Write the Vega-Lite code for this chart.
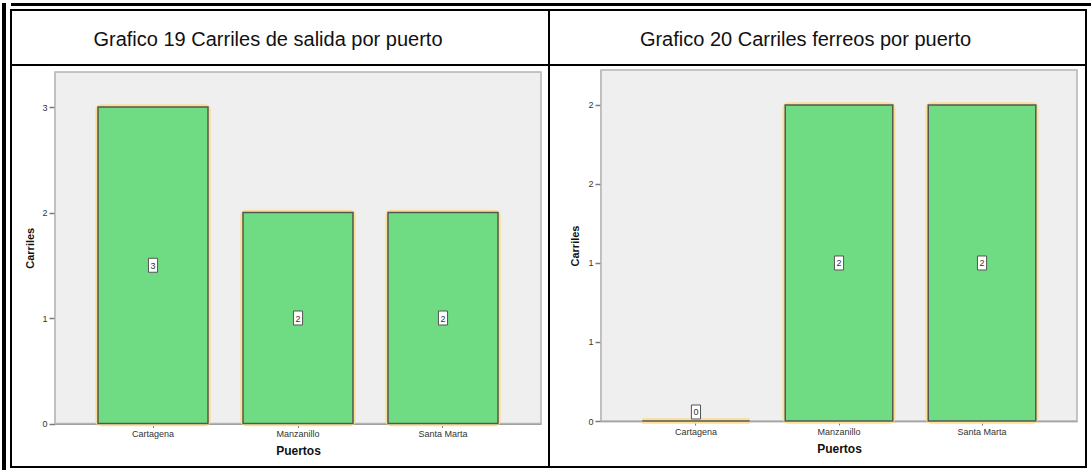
{
  "$schema": "https://vega.github.io/schema/vega-lite/v6.json",
  "background": "white",
  "padding": {"left": 2, "top": 3, "right": 0, "bottom": 0},
  "config": {
    "font": "Liberation Sans",
    "text": {"font": "Liberation Sans"}
  },
  "spacing": 4,
  "hconcat": [
    {
      "width": 4,
      "height": 467,
      "view": {"fill": "black", "stroke": null},
      "data": {"values": []},
      "mark": "rect",
      "encoding": {}
    },
    {
      "spacing": 3,
      "vconcat": [
        {
          "width": 1080,
          "height": 3,
          "view": {"fill": "black", "stroke": null},
          "data": {"values": []},
          "mark": "rect",
          "encoding": {}
        },
        {
          "columns": 2,
          "spacing": 0,
          "bounds": "flush",
          "align": "each",
          "concat": [
            {
              "width": 538,
              "height": 55,
              "view": {"stroke": "black", "strokeWidth": 2, "fill": "white"},
              "data": {"values": [{"t": "Grafico 19 Carriles de salida por puerto"}]},
              "mark": {"type": "text", "fontSize": 20, "color": "#111111", "dx": -12, "dy": 2},
              "encoding": {"text": {"field": "t"}}
            },
            {
              "width": 537,
              "height": 55,
              "view": {"stroke": "black", "strokeWidth": 2, "fill": "white"},
              "data": {"values": [{"t": "Grafico 20 Carriles ferreos por puerto"}]},
              "mark": {"type": "text", "fontSize": 20, "color": "#111111", "dx": -12, "dy": 2},
              "encoding": {"text": {"field": "t"}}
            },
            {
              "width": 538,
              "height": 402,
              "view": {"stroke": "black", "strokeWidth": 2, "fill": "white"},
              "resolve": {"scale": {"x": "independent", "y": "independent"}},
              "layer": [
                {
                  "data": {"values": [{"lo": 0, "hi": 1}]},
                  "mark": {"type": "rect", "fill": "#efefef", "stroke": "#b4b4b4", "strokeWidth": 1.5},
                  "encoding": {
                    "x": {"field": "lo", "type": "quantitative", "scale": {"domain": [0, 1], "range": [44, 530]}, "axis": null},
                    "x2": {"field": "hi"},
                    "y": {"field": "lo", "type": "quantitative", "scale": {"domain": [0, 1], "range": [358.5, 7]}, "axis": null},
                    "y2": {"field": "hi"}
                  }
                },
                {
                  "data": {"values": [
                    {"Puerto": "Cartagena", "Carriles": 3},
                    {"Puerto": "Manzanillo", "Carriles": 2},
                    {"Puerto": "Santa Marta", "Carriles": 2}
                  ]},
                  "transform": [{"calculate": "datum.Carriles > 0 ? datum.Carriles / 2 : 0.06", "as": "mitad"}],
                  "encoding": {
                    "x": {
                      "field": "Puerto", "type": "nominal", "sort": null,
                      "scale": {"range": [44, 530], "paddingInner": 0.2414, "paddingOuter": 0.2966},
                      "axis": {
                        "title": "Puertos", "offset": -43.5, "labelAngle": 0,
                        "domainColor": "#7a7a7a", "domainWidth": 1.5,
                        "tickColor": "#7a7a7a", "tickSize": 4, "tickWidth": 1,
                        "labelFontSize": 9, "labelColor": "#333333", "labelPadding": 2,
                        "titleFontSize": 12, "titleFontWeight": "bold", "titleColor": "#111111", "titlePadding": 7
                      }
                    },
                    "y": {
                      "field": "Carriles", "type": "quantitative",
                      "scale": {"domain": [0, 3.332], "range": [358.5, 7], "nice": false, "zero": true},
                      "axis": {
                        "title": "Carriles", "offset": -44, "values": [0, 1, 2, 3], "format": "d", "grid": false,
                        "domainColor": "#7a7a7a", "domainWidth": 1.5,
                        "tickColor": "#7a7a7a", "tickSize": 6, "tickWidth": 1.5,
                        "labelFontSize": 9, "labelColor": "#333333", "labelPadding": 2,
                        "titleFontSize": 11, "titleFontWeight": "bold", "titleColor": "#111111", "titlePadding": 6
                      }
                    }
                  },
                  "layer": [
                    {"mark": {"type": "bar", "color": "#f9e096", "filled": false, "stroke": "#f9e096", "strokeWidth": 5.5, "cornerRadius": 3}},
                    {"mark": {"type": "bar", "fill": "#6fdc84", "stroke": "#555555", "strokeWidth": 1.5}},
                    {
                      "mark": {"type": "point", "shape": "M-0.65,-1H0.65V1H-0.65Z", "size": 196, "filled": true, "fill": "white", "stroke": "#555555", "strokeWidth": 1, "opacity": 1},
                      "encoding": {"y": {"field": "mitad", "type": "quantitative"}}
                    },
                    {
                      "mark": {"type": "text", "fontSize": 9, "color": "#333333", "baseline": "middle", "dy": 0.5},
                      "encoding": {"y": {"field": "mitad", "type": "quantitative"}, "text": {"field": "Carriles", "type": "quantitative"}}
                    }
                  ]
                }
              ]
            },
            {
              "width": 537,
              "height": 402,
              "view": {"stroke": "black", "strokeWidth": 2, "fill": "white"},
              "resolve": {"scale": {"x": "independent", "y": "independent"}},
              "layer": [
                {
                  "data": {"values": [{"lo": 0, "hi": 1}]},
                  "mark": {"type": "rect", "fill": "#efefef", "stroke": "#b4b4b4", "strokeWidth": 1.5},
                  "encoding": {
                    "x": {"field": "lo", "type": "quantitative", "scale": {"domain": [0, 1], "range": [52, 528]}, "axis": null},
                    "x2": {"field": "hi"},
                    "y": {"field": "lo", "type": "quantitative", "scale": {"domain": [0, 1], "range": [356, 5]}, "axis": null},
                    "y2": {"field": "hi"}
                  }
                },
                {
                  "data": {"values": [
                    {"Puerto": "Cartagena", "Carriles": 0},
                    {"Puerto": "Manzanillo", "Carriles": 2},
                    {"Puerto": "Santa Marta", "Carriles": 2}
                  ]},
                  "transform": [{"calculate": "datum.Carriles > 0 ? datum.Carriles / 2 : 0.057", "as": "mitad"}],
                  "encoding": {
                    "x": {
                      "field": "Puerto", "type": "nominal", "sort": null,
                      "scale": {"range": [52, 528], "paddingInner": 0.248, "paddingOuter": 0.288},
                      "axis": {
                        "title": "Puertos", "offset": -46, "labelAngle": 0,
                        "domainColor": "#7a7a7a", "domainWidth": 1.5,
                        "tickColor": "#7a7a7a", "tickSize": 4, "tickWidth": 1,
                        "labelFontSize": 9, "labelColor": "#333333", "labelPadding": 2,
                        "titleFontSize": 12, "titleFontWeight": "bold", "titleColor": "#111111", "titlePadding": 7
                      }
                    },
                    "y": {
                      "field": "Carriles", "type": "quantitative",
                      "scale": {"domain": [0, 2.2215], "range": [356, 5], "nice": false, "zero": true},
                      "axis": {
                        "title": "Carriles", "offset": -52, "values": [0, 0.5, 1, 1.5, 2], "format": ".0f", "grid": false,
                        "domainColor": "#7a7a7a", "domainWidth": 1.5,
                        "tickColor": "#7a7a7a", "tickSize": 6, "tickWidth": 1.5,
                        "labelFontSize": 9, "labelColor": "#333333", "labelPadding": 2,
                        "titleFontSize": 11, "titleFontWeight": "bold", "titleColor": "#111111", "titlePadding": 7
                      }
                    }
                  },
                  "layer": [
                    {"mark": {"type": "bar", "color": "#f9e096", "filled": false, "stroke": "#f9e096", "strokeWidth": 5.5, "cornerRadius": 3}},
                    {"mark": {"type": "bar", "fill": "#6fdc84", "stroke": "#555555", "strokeWidth": 1.5}},
                    {
                      "mark": {"type": "point", "shape": "M-0.65,-1H0.65V1H-0.65Z", "size": 196, "filled": true, "fill": "white", "stroke": "#555555", "strokeWidth": 1, "opacity": 1},
                      "encoding": {"y": {"field": "mitad", "type": "quantitative"}}
                    },
                    {
                      "mark": {"type": "text", "fontSize": 9, "color": "#333333", "baseline": "middle", "dy": 0.5},
                      "encoding": {"y": {"field": "mitad", "type": "quantitative"}, "text": {"field": "Carriles", "type": "quantitative"}}
                    }
                  ]
                }
              ]
            }
          ]
        }
      ]
    }
  ]
}
